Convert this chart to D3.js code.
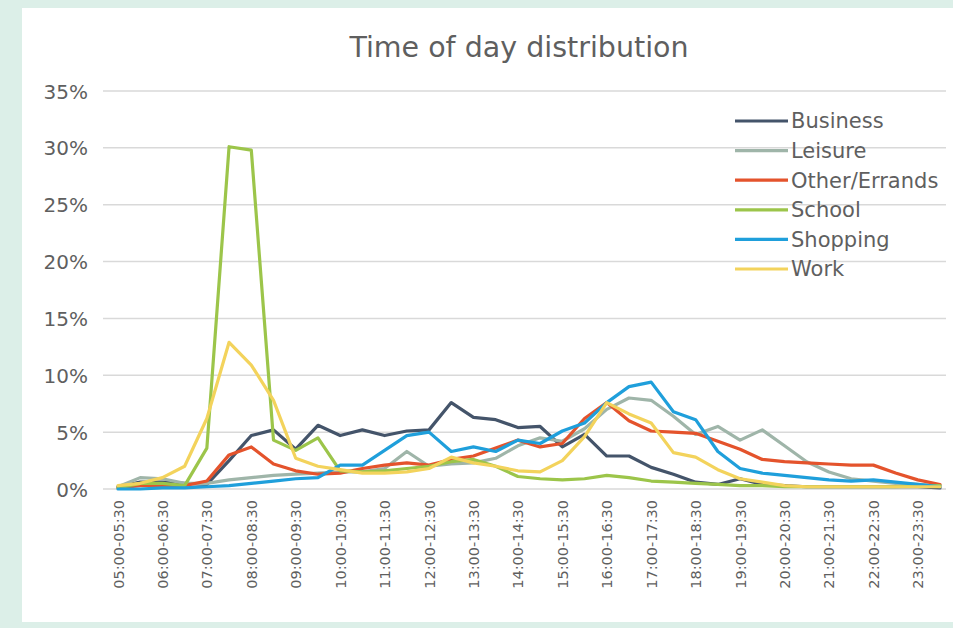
<!DOCTYPE html>
<html><head><meta charset="utf-8">
<script src="https://cdn.jsdelivr.net/npm/d3@7"></script>
<style>html,body{margin:0;padding:0;background:#dcefe8;}svg{display:block;}</style>
</head><body>
<svg id="chart" width="953" height="628"></svg>
<script>
const categories = ["05:00-05:30","05:30-06:00","06:00-06:30","06:30-07:00","07:00-07:30","07:30-08:00","08:00-08:30","08:30-09:00","09:00-09:30","09:30-10:00","10:00-10:30","10:30-11:00","11:00-11:30","11:30-12:00","12:00-12:30","12:30-13:00","13:00-13:30","13:30-14:00","14:00-14:30","14:30-15:00","15:00-15:30","15:30-16:00","16:00-16:30","16:30-17:00","17:00-17:30","17:30-18:00","18:00-18:30","18:30-19:00","19:00-19:30","19:30-20:00","20:00-20:30","20:30-21:00","21:00-21:30","21:30-22:00","22:00-22:30","22:30-23:00","23:00-23:30","23:30-00:00"];
const business = [0.2,0.6,0.6,0.5,0.4,2.5,4.7,5.2,3.5,5.6,4.7,5.2,4.7,5.1,5.2,7.6,6.3,6.1,5.4,5.5,3.7,4.8,2.9,2.9,1.9,1.3,0.6,0.4,0.9,0.4,0.3,0.2,0.2,0.2,0.2,0.2,0.2,0.1];
const leisure = [0.2,1.0,0.9,0.5,0.5,0.8,1.0,1.2,1.3,1.4,1.5,1.5,1.8,3.3,2.0,2.2,2.3,2.7,3.8,4.5,4.2,5.3,7.0,8.0,7.8,6.4,4.8,5.5,4.3,5.2,3.8,2.4,1.5,0.9,0.7,0.5,0.4,0.3];
const otherErrands = [0.1,0.3,0.3,0.3,0.7,3.0,3.7,2.2,1.6,1.3,1.4,1.8,2.1,2.3,2.1,2.6,2.9,3.6,4.3,3.7,4.0,6.2,7.6,6.0,5.1,5.0,4.9,4.2,3.5,2.6,2.4,2.3,2.2,2.1,2.1,1.4,0.8,0.4];
const school = [0.1,0.5,0.5,0.3,3.6,30.1,29.8,4.3,3.4,4.5,1.6,1.5,1.6,1.8,2.0,2.4,2.6,2.0,1.1,0.9,0.8,0.9,1.2,1.0,0.7,0.6,0.5,0.4,0.3,0.3,0.2,0.2,0.2,0.2,0.2,0.2,0.3,0.3];
const shopping = [0.0,0.0,0.1,0.1,0.2,0.3,0.5,0.7,0.9,1.0,2.1,2.1,3.4,4.7,5.0,3.3,3.7,3.3,4.3,4.0,5.1,5.8,7.6,9.0,9.4,6.8,6.1,3.3,1.8,1.4,1.2,1.0,0.8,0.7,0.8,0.6,0.4,0.2];
const work = [0.3,0.5,1.0,2.0,6.2,12.9,10.9,7.8,2.7,2.0,1.7,1.4,1.4,1.5,1.8,2.8,2.3,2.0,1.6,1.5,2.5,4.6,7.6,6.6,5.8,3.2,2.8,1.7,0.9,0.6,0.3,0.2,0.2,0.2,0.2,0.2,0.2,0.2];
const seriesNames = ["Business","Leisure","Other/Errands","School","Shopping","Work"];
const seriesColors = ["#44546a","#9fb5a9","#e4532c","#9cc54a","#1f9fdb","#f3d35c"];
const yTicks = [0,5,10,15,20,25,30,35];
const title = "Time of day distribution";

const seriesData = [business, leisure, otherErrands, school, shopping, work];
const svg = d3.select("#chart");
const font = "'DejaVu Sans', Verdana, sans-serif";
const textColor = "#5f5f5f";

// white chart panel
svg.append("rect").attr("x",22).attr("y",8).attr("width",931).attr("height",614).attr("fill","#ffffff");

const x = d3.scalePoint().domain(categories).range([118, 940]);
const y = d3.scaleLinear().domain([0,35]).range([489, 91]);

// gridlines
svg.append("g").selectAll("line").data(yTicks).join("line")
  .attr("x1",103).attr("x2",946)
  .attr("y1",d=>y(d)).attr("y2",d=>y(d))
  .attr("stroke","#d9d9d9").attr("stroke-width",1.5);

// y axis
const yAxis = d3.axisLeft(y).tickValues(yTicks).tickFormat(d=>d+"%").tickSize(0).tickPadding(0);
const yg = svg.append("g").attr("transform","translate(88,0)").call(yAxis);
yg.select(".domain").remove();
yg.selectAll("text").attr("font-family",font).attr("font-size",20).attr("fill",textColor).attr("dy","0.35em");

// x axis
const xAxis = d3.axisBottom(x).tickValues(categories.filter((c,i)=>i%2===0)).tickSize(0).tickPadding(0);
const xg = svg.append("g").attr("transform","translate(0,500)").call(xAxis);
xg.select(".domain").remove();
xg.selectAll("text").attr("font-family",font).attr("font-size",14.5).attr("fill",textColor)
  .attr("transform","rotate(-90)").attr("text-anchor","end").attr("x",0).attr("y",0).attr("dy","0.35em");

// lines
const line = d3.line().x((d,i)=>x(categories[i])).y(d=>y(d));
svg.append("g").selectAll("path").data(seriesData).join("path")
  .attr("d",d=>line(d)).attr("fill","none")
  .attr("stroke",(d,i)=>seriesColors[i]).attr("stroke-width",3.2)
  .attr("stroke-linejoin","round").attr("stroke-linecap","round");

// title
svg.append("text").attr("x",519).attr("y",57).attr("text-anchor","middle")
  .attr("font-family",font).attr("font-size",28.5).attr("fill",textColor).text(title);

// legend
const legendY = d3.scalePoint().domain(seriesNames).range([121, 269]);
const lg = svg.append("g").selectAll("g").data(seriesNames).join("g")
  .attr("transform",d=>`translate(0,${legendY(d)})`);
lg.append("line").attr("x1",735).attr("x2",788).attr("y1",0).attr("y2",0)
  .attr("stroke",(d,i)=>seriesColors[i]).attr("stroke-width",3.2);
lg.append("text").attr("x",791).attr("y",0).attr("dy","0.35em")
  .attr("font-family",font).attr("font-size",21).attr("fill",textColor).text(d=>d);
</script>
</body></html>
